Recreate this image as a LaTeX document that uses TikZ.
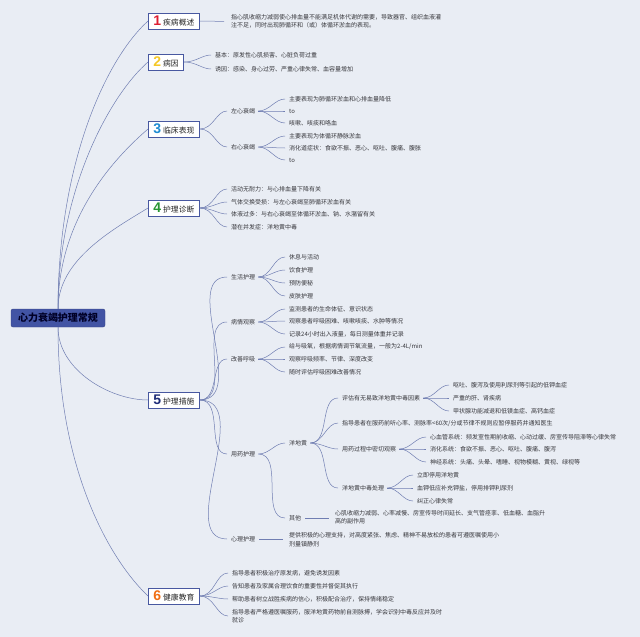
\documentclass[tikz,border=0pt]{standalone}
\usepackage{fontspec}
\setmainfont{Noto Sans CJK SC}
\newfontfamily\numfont{Liberation Sans}
\definecolor{bgc}{RGB}{233,237,244}
\definecolor{linec}{RGB}{112,126,178}
\definecolor{boxc}{RGB}{72,88,160}
\definecolor{txtc}{RGB}{55,55,60}
\definecolor{rootc}{RGB}{66,84,164}
\definecolor{nA}{RGB}{222,30,50}
\definecolor{nB}{RGB}{245,200,40}
\definecolor{nC}{RGB}{30,140,210}
\definecolor{nD}{RGB}{40,150,50}
\definecolor{nE}{RGB}{30,45,120}
\definecolor{nF}{RGB}{240,110,20}
\tikzset{
 conn/.style={draw=linec, line width=0.5pt},
 fan/.style={conn, shorten >=3pt},
 leaf/.style={anchor=west, inner sep=1pt, text=txtc, font=\fontsize{6}{8.5}\selectfont, align=left},
 secbox/.style={anchor=west, draw=boxc, fill=white, line width=0.8pt, minimum height=16pt, inner xsep=5pt, inner ysep=1pt, text=black!85, font=\fontsize{7.8}{9}\selectfont},
 rootbox/.style={fill=rootc, draw=rootc!80!black, rounded corners=2pt, minimum width=94pt, minimum height=18pt, inner sep=1pt, font=\bfseries\fontsize{10}{12}\selectfont, text=black!85!blue},
}
\newcommand{\secnum}[2]{{\numfont\bfseries\fontsize{14}{14}\selectfont\color{#1}#2}\hspace{2pt}}
\begin{document}
\begin{tikzpicture}[x=1pt,y=-1pt]
\fill[bgc] (0,0) rectangle (640,637);
\useasboundingbox (0,0) rectangle (640,637);

% root and sections
\node[rootbox] (root) at (58,318) {心力衰竭护理常规};
\node[secbox] (s1) at (148,21) {\secnum{nA}{1}疾病概述};
\node[secbox] (s2) at (148,62) {\secnum{nB}{2}病因};
\node[secbox] (s3) at (148,129) {\secnum{nC}{3}临床表现};
\node[secbox] (s4) at (148,208) {\secnum{nD}{4}护理诊断};
\node[secbox] (s5) at (148,400) {\secnum{nE}{5}护理措施};
\node[secbox] (s6) at (148,596) {\secnum{nF}{6}健康教育};

\draw[conn] (root.north) .. controls (58,165) and (105,60) .. (s1.west);
\draw[conn] (root.north) .. controls (58,190) and (110,95) .. (s2.west);
\draw[conn] (root.north) .. controls (58,220) and (112,160) .. (s3.west);
\draw[conn] (root.north) .. controls (58,260) and (112,230) .. (s4.west);
\draw[conn] (root.south) .. controls (58,370) and (110,400) .. (s5.west);
\draw[conn] (root.south) .. controls (58,470) and (110,560) .. (s6.west);

% section 1
\node[leaf] (t1) at (230,21.5) {指心肌收缩力减弱使心排血量不能满足机体代谢的需要，导致器官、组织血液灌\\注不足，同时出现肺循环和（或）体循环淤血的表现。};
\draw[conn, shorten >=6pt] (s1.east) -- (t1.west);

% section 2
\node[leaf] (b1) at (214,55) {基本：原发性心肌损害、心脏负荷过重};
\node[leaf] (b2) at (214,69) {诱因：感染、身心过劳、严重心律失常、血容量增加};
\foreach \c in {b1,b2} \draw[fan] (s2.east) to[out=0,in=180] (\c.west);

% section 3
\node[leaf] (l) at (230,111) {左心衰竭};
\node[leaf] (r) at (230,147) {右心衰竭};
\node[leaf] (l1) at (288,99) {主要表现为肺循环淤血和心排血量降低};
\node[leaf] (l2) at (288,111) {to};
\node[leaf] (l3) at (288,123) {咳嗽、咳痰和咯血};
\node[leaf] (r1) at (288,136) {主要表现为体循环静脉淤血};
\node[leaf] (r2) at (288,148) {消化道症状：食欲不振、恶心、呕吐、腹痛、腹胀};
\node[leaf] (r3) at (288,160) {to};
\foreach \c in {l,r} \draw[fan] (s3.east) to[out=0,in=180] (\c.west);
\foreach \c in {l1,l2,l3} \draw[fan, shorten <=2pt] (l.east) to[out=0,in=180] (\c.west);
\foreach \c in {r1,r2,r3} \draw[fan, shorten <=2pt] (r.east) to[out=0,in=180] (\c.west);

% section 4
\node[leaf] (d1) at (230,189) {活动无耐力：与心排血量下降有关};
\node[leaf] (d2) at (230,202) {气体交换受损：与左心衰竭至肺循环淤血有关};
\node[leaf] (d3) at (230,214) {体液过多：与右心衰竭至体循环淤血、钠、水潴留有关};
\node[leaf] (d4) at (230,227) {潜在并发症：洋地黄中毒};
\foreach \c in {d1,d2,d3,d4} \draw[fan] (s4.east) to[out=0,in=180] (\c.west);

% section 5
\node[leaf] (m1) at (230,277) {生活护理};
\node[leaf] (m2) at (230,322) {病情观察};
\node[leaf] (m3) at (230,359) {改善呼吸};
\node[leaf] (m4) at (230,454) {用药护理};
\node[leaf] (m5) at (230,539) {心理护理};
\foreach \c in {m1,m2,m3,m4,m5} \draw[fan] (s5.east) to[out=0,in=180] (\c.west);

\node[leaf] (m11) at (288,257) {休息与活动};
\node[leaf] (m12) at (288,270) {饮食护理};
\node[leaf] (m13) at (288,283) {预防便秘};
\node[leaf] (m14) at (288,296) {皮肤护理};
\foreach \c in {m11,m12,m13,m14} \draw[fan, shorten <=2pt] (m1.east) to[out=0,in=180] (\c.west);

\node[leaf] (m21) at (288,309) {监测患者的生命体征、意识状态};
\node[leaf] (m22) at (288,321) {观察患者呼吸困难、咳嗽咳痰、水肿等情况};
\node[leaf] (m23) at (288,334) {记录24小时出入液量，每日测量体重并记录};
\foreach \c in {m21,m22,m23} \draw[fan, shorten <=2pt] (m2.east) to[out=0,in=180] (\c.west);

\node[leaf] (m31) at (288,347) {给与吸氧，根据病情调节氧流量，一般为2-4L/min};
\node[leaf] (m32) at (288,359) {观察呼吸频率、节律、深度改变};
\node[leaf] (m33) at (288,372) {随时评估呼吸困难改善情况};
\foreach \c in {m31,m32,m33} \draw[fan, shorten <=2pt] (m3.east) to[out=0,in=180] (\c.west);

\node[leaf] (y) at (288,443) {洋地黄};
\node[leaf] (q) at (288,518) {其他};
\foreach \c in {y,q} \draw[fan, shorten <=2pt] (m4.east) to[out=0,in=180] (\c.west);

\node[leaf] (y1) at (341,398) {评估有无易致洋地黄中毒因素};
\node[leaf] (y2) at (341,423) {指导患者在服药前听心率、测脉率<60次/分或节律不规则应暂停服药并通知医生};
\node[leaf] (y3) at (341,449) {用药过程中密切观察};
\node[leaf] (y4) at (341,488) {洋地黄中毒处理};
\foreach \c in {y1,y2,y3,y4} \draw[fan, shorten <=2pt] (y.east) to[out=0,in=180] (\c.west);

\node[leaf] (y11) at (452,385) {呕吐、腹泻及使用利尿剂等引起的低钾血症};
\node[leaf] (y12) at (452,398) {严重的肝、肾疾病};
\node[leaf] (y13) at (452,411) {甲状腺功能减退和低镁血症、高钙血症};
\foreach \c in {y11,y12,y13} \draw[fan, shorten <=2pt] (y1.east) to[out=0,in=180] (\c.west);

\node[leaf] (y31) at (429,437) {心血管系统：频发室性期前收缩、心动过缓、房室传导阻滞等心律失常};
\node[leaf] (y32) at (429,449) {消化系统：食欲不振、恶心、呕吐、腹痛、腹泻};
\node[leaf] (y33) at (429,462) {神经系统：头痛、头晕、嗜睡、视物模糊、黄视、绿视等};
\foreach \c in {y31,y32,y33} \draw[fan, shorten <=2pt] (y3.east) to[out=0,in=180] (\c.west);

\node[leaf] (y41) at (416,475) {立即停用洋地黄};
\node[leaf] (y42) at (416,488) {血钾低应补充钾盐，停用排钾利尿剂};
\node[leaf] (y43) at (416,501) {纠正心律失常};
\foreach \c in {y41,y42,y43} \draw[fan, shorten <=2pt] (y4.east) to[out=0,in=180] (\c.west);

\node[leaf] (qt) at (334,517) {心肌收缩力减弱、心率减慢、房室传导时间延长、支气管痉挛、低血糖、血脂升\\高的副作用};
\draw[conn, shorten <=3pt, shorten >=5pt] (q.east) -- (q.east -| qt.west);

\node[leaf] (pt) at (288,539.5) {提供积极的心理支持，对高度紧张、焦虑、精神不易放松的患者可遵医嘱使用小\\剂量镇静剂};
\draw[conn, shorten <=3pt, shorten >=5pt] (m5.east) -- (m5.east -| pt.west);

% section 6
\node[leaf] (e1) at (231,573) {指导患者积极治疗原发病，避免诱发因素};
\node[leaf] (e2) at (231,586) {告知患者及家属合理饮食的重要性并督促其执行};
\node[leaf] (e3) at (231,599) {帮助患者树立战胜疾病的信心，积极配合治疗，保持情绪稳定};
\node[leaf] (e4) at (231,616) {指导患者严格遵医嘱服药，服洋地黄药物前自测脉搏，学会识别中毒反应并及时\\就诊};
\foreach \c in {e1,e2,e3,e4} \draw[fan] (s6.east) to[out=0,in=180] (\c.west);
\end{tikzpicture}
\end{document}
